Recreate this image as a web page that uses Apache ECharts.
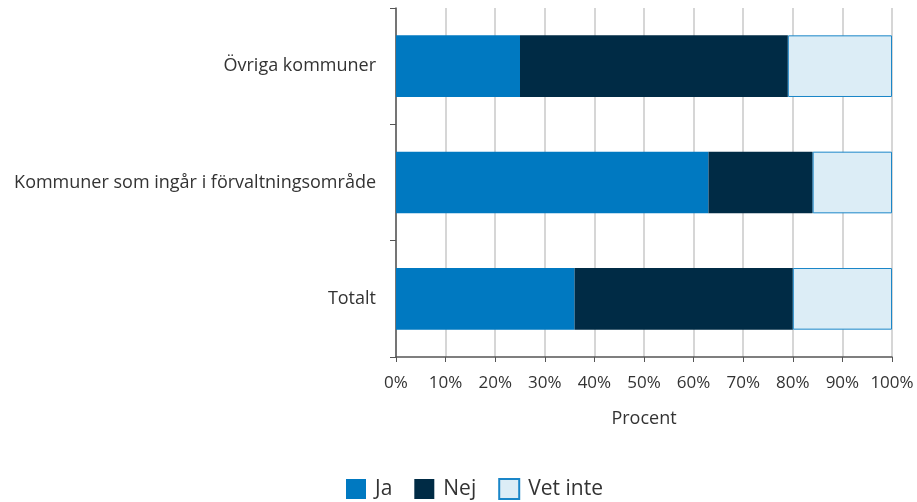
<!DOCTYPE html>
<html>
<head>
<meta charset="utf-8">
<script src="https://cdn.jsdelivr.net/npm/echarts@6/dist/echarts.min.js"></script>
<style>
  html, body { margin: 0; padding: 0; background: #fff; }
  #main { width: 917px; height: 502px; }
</style>
</head>
<body>
<div id="main"></div>
<script>
// kategorier (uppifrån och ned)
const categories = ['Övriga kommuner', 'Kommuner som ingår i förvaltningsområde', 'Totalt']
const ja = [25, 63, 36]
const nej = [54, 21, 44]
const vetInte = [21, 16, 20]

const font = '"Open Sans", "Noto Sans", sans-serif'
const textColor = '#333'

let myChart = echarts.init(document.getElementById('main'))

myChart.setOption({
  animation: false,
  textStyle: { fontFamily: font },
  grid: { left: 396, right: 25, top: 8, bottom: 145 },
  legend: {
    left: 341,
    top: 473,
    icon: 'rect',
    itemWidth: 20,
    itemHeight: 20,
    itemGap: 22,
    textStyle: { fontSize: 21, color: textColor, fontFamily: font, padding: [0, 0, 0, 4] },
    data: ['Ja', 'Nej', 'Vet inte']
  },
  xAxis: {
    type: 'value',
    min: 0,
    max: 100,
    interval: 10,
    name: 'Procent',
    nameLocation: 'middle',
    nameGap: 53,
    nameTextStyle: { fontSize: 18, color: textColor },
    axisLine: { show: true, lineStyle: { color: '#555', width: 1.5 } },
    axisTick: { show: true, length: 5, lineStyle: { color: '#555' } },
    axisLabel: { formatter: '{value}%', fontSize: 17, color: textColor, margin: 18 },
    splitLine: { show: true, lineStyle: { color: '#c8c8c8', width: 1.5 } }
  },
  yAxis: {
    type: 'category',
    inverse: true,
    data: categories,
    axisLine: { show: true, lineStyle: { color: '#555', width: 1.5 } },
    axisTick: { show: true, length: 6, lineStyle: { color: '#555' } },
    axisLabel: { fontSize: 18, color: textColor, margin: 20 }
  },
  series: [
    {
      name: 'Ja', type: 'bar', stack: 'tot', barWidth: '53%', data: ja,
      itemStyle: { color: '#0079c1' }
    },
    {
      name: 'Nej', type: 'bar', stack: 'tot', data: nej,
      itemStyle: { color: '#002b45' }
    },
    {
      name: 'Vet inte', type: 'bar', stack: 'tot', data: vetInte,
      itemStyle: { color: '#dcedf6', borderColor: '#1a86c8', borderWidth: 1 }
    }
  ]
})
</script>
</body>
</html>
